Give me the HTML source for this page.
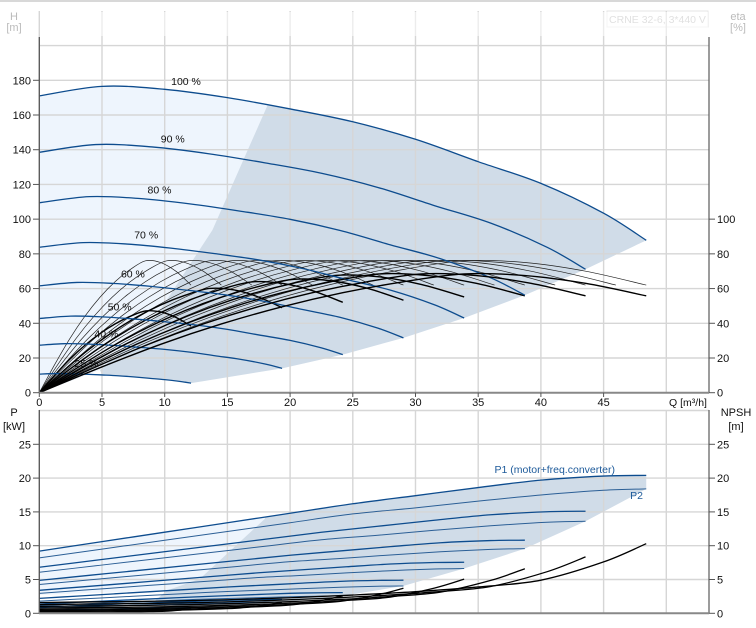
<!DOCTYPE html>
<html><head><meta charset="utf-8"><style>
html,body{margin:0;padding:0;background:#fff;}
svg{display:block;font-family:"Liberation Sans",sans-serif;}
</style></head><body>
<svg id="c" width="756" height="628" viewBox="0 0 756 628" xmlns="http://www.w3.org/2000/svg"></svg>
<script>
// ---- data ----
const qBase=[0,5,10,15,20,25,30,35,40,45,48.4];
const hBase=[171,176.5,174.8,170,163.5,156.1,146,133.1,120.6,103.4,87.8];
const p1Base=[9.2,10.6,12.0,13.4,14.8,16.2,17.4,18.6,19.7,20.3,20.4];
const p2Base=[8.2,9.5,10.8,12.1,13.4,14.7,15.6,16.6,17.5,18.2,18.4];
const npshBase=[1.6,1.7,1.8,2.0,2.3,2.7,3.2,3.9,4.9,7.6,10.3];
const speeds=[0.25,0.4,0.5,0.6,0.7,0.8,0.9,1.0];
const speedLabels=["25 %","40 %","50 %","60 %","70 %","80 %","90 %","100 %"];
const p1Factor=[0.04,0.1,0.15,0.24,0.37,0.53,0.74,1];
const p2Factor=[0.035,0.09,0.14,0.22,0.36,0.52,0.74,1];
const etaR=[0,0.1,0.2,0.3,0.4,0.5,0.6,0.7,0.8,0.9,1.0];
const etaBase=[0,16,31,44,55,64,71,76,75,70,62];
const etaTotFactor=[0.62,0.79,0.84,0.86,0.89,0.9,0.9,0.9];
const etaThinSpeeds=[0.25,0.3,0.35,0.4,0.45,0.5,0.55,0.6,0.65,0.7,0.75,0.8,0.85,0.9,0.95,1.0];
const sysQ=[18.24,13.8,9,4.84];
const sysH=[166.3,93.7,40.5,13.1];
const pEdgeQ=[18,12.8,10.2,9,12.4];
const pEdgeP=[14,5.1,3.4,1.5,0.7];
const hTicks=[0,20,40,60,80,100,120,140,160,180];
const etaTicks=[0,20,40,60,80,100];
const pTicks=[0,5,10,15,20,25];
const qTicks=[0,5,10,15,20,25,30,35,40,45];

// ---- axes ----
const X=q=>39.3+q*12.54;
const YH=h=>392.7-h*1.7356;
const YP=p=>613.3-p*6.76;
const svg=document.getElementById('c');
const NS='http://www.w3.org/2000/svg';
function mk(tag,attrs,parent){const e=document.createElementNS(NS,tag);for(const k in attrs)e.setAttribute(k,attrs[k]);(parent||svg).appendChild(e);return e;}
function smooth(pts){let d='M'+pts[0][0].toFixed(2)+','+pts[0][1].toFixed(2);
 for(let i=0;i<pts.length-1;i++){const p0=pts[i-1]||pts[i],p1=pts[i],p2=pts[i+1],p3=pts[i+2]||p2;
  const c1=[p1[0]+(p2[0]-p0[0])/6,p1[1]+(p2[1]-p0[1])/6],c2=[p2[0]-(p3[0]-p1[0])/6,p2[1]-(p3[1]-p1[1])/6];
  d+='C'+c1.map(v=>v.toFixed(2))+' '+c2.map(v=>v.toFixed(2))+' '+p2[0].toFixed(2)+','+p2[1].toFixed(2);}
 return d;}
function interp(xs,ys,x){for(let i=0;i<xs.length-1;i++){if(x<=xs[i+1]){const t=(x-xs[i])/(xs[i+1]-xs[i]);return ys[i]+t*(ys[i+1]-ys[i]);}}return ys[ys.length-1];}

const blue='#0d4c8e';
// ---- header ----
let e=mk('line',{x1:0,y1:1,x2:756,y2:1,stroke:'#ccc','stroke-width':1.5});

e=mk('text',{x:14,y:20,'font-size':11,fill:'#bbb','text-anchor':'middle'});e.textContent='H';

e=mk('text',{x:14,y:31,'font-size':11,fill:'#bbb','text-anchor':'middle'});e.textContent='[m]';

e=mk('text',{x:738,y:20,'font-size':11,fill:'#bbb','text-anchor':'middle'});e.textContent='eta';

e=mk('text',{x:738,y:31,'font-size':11,fill:'#bbb','text-anchor':'middle'});e.textContent='[%]';

e=mk('rect',{x:607,y:11,width:101,height:16,fill:'#fff',stroke:'#e6e6e6'});

e=mk('text',{x:657.5,y:23,'font-size':10.5,fill:'#bbb','text-anchor':'middle'});e.textContent='CRNE 32-6, 3*440 V';


// ---- top regions ----
let pts=[[X(0),YH(0)]];
qBase.forEach((q,i)=>{if(q<sysQ[0])pts.push([X(q),YH(hBase[i])]);});
pts.push([X(sysQ[0]),YH(interp(qBase,hBase,sysQ[0]))]);
sysQ.forEach((q,i)=>pts.push([X(q),YH(sysH[i])]));
e=mk('polygon',{points:pts.map(p=>p.join(',')).join(' '),fill:'#eef5fd'});

pts=[[X(sysQ[0]),YH(interp(qBase,hBase,sysQ[0]))]];
qBase.forEach((q,i)=>{if(q>sysQ[0])pts.push([X(q),YH(hBase[i])]);});
for(let s=speeds.length-2;s>=0;s--){const n=speeds[s];pts.push([X(48.4*n),YH(87.8*n*n)]);}
{const n=speeds[0];for(let i=qBase.length-2;i>=0;i--){const q=qBase[i]*n;if(q>sysQ[3])pts.push([X(q),YH(hBase[i]*n*n)]);}}
sysQ.slice().reverse().forEach((q,i,a)=>{});
for(let i=sysQ.length-1;i>=0;i--)pts.push([X(sysQ[i]),YH(sysH[i])]);
e=mk('polygon',{points:pts.map(p=>p.join(',')).join(' '),fill:'#d0dce8'});


// ---- bottom regions ----
pts=[[X(0),YP(2.7)],[X(0),YP(p1Base[0])]];
qBase.forEach((q,i)=>{if(q<pEdgeQ[0])pts.push([X(q),YP(p1Base[i])]);});
pts.push([X(pEdgeQ[0]),YP(interp(qBase,p1Base,pEdgeQ[0]))]);
for(let i=0;i<3;i++)pts.push([X(pEdgeQ[i]),YP(pEdgeP[i])]);
e=mk('polygon',{points:pts.map(p=>p.join(',')).join(' '),fill:'#eef5fd'});

pts=[[X(pEdgeQ[0]),YP(interp(qBase,p1Base,pEdgeQ[0]))]];
qBase.forEach((q,i)=>{if(q>pEdgeQ[0])pts.push([X(q),YP(p1Base[i])]);});
for(let s=speeds.length-1;s>=1;s--){const n=speeds[s];pts.push([X(48.4*n),YP(18.4*p2Factor[s])]);}
for(let i=pEdgeQ.length-1;i>=0;i--)pts.push([X(pEdgeQ[i]),YP(pEdgeP[i])]);
e=mk('polygon',{points:pts.map(p=>p.join(',')).join(' '),fill:'#d0dce8'});


// ---- grid ----
qTicks.concat([50]).forEach(q=>{
 let g=mk('line',{x1:X(q),y1:11,x2:X(q),y2:392,stroke:'#d6d6d6','stroke-width':1.4});
 
 g=mk('line',{x1:X(q),y1:410,x2:X(q),y2:613,stroke:'#d6d6d6','stroke-width':1.4});
 
});
hTicks.concat([200]).forEach(h=>{if(h===0)return;
 const g=mk('line',{x1:39,y1:YH(h),x2:709,y2:YH(h),stroke:'#d6d6d6','stroke-width':1.4});
 });
pTicks.concat([30]).forEach(p=>{if(p===0)return;
 const g=mk('line',{x1:39,y1:YP(p),x2:709,y2:YP(p),stroke:'#d6d6d6','stroke-width':1.4});
 });
e=mk('rect',{x:40,y:12,width:668,height:24,fill:'#fff',opacity:0.55});


// ---- efficiency curves (thin) ----
etaThinSpeeds.forEach(n=>{
 const p=etaR.map((r,i)=>[X(r*48.4*n),YH(etaBase[i])]);
 const c=mk('path',{d:smooth(p),fill:'none',stroke:'#222','stroke-width':0.7});
 
});
// ---- total efficiency + head + power + npsh ----
speeds.forEach((n,s)=>{
 let p=etaR.map((r,i)=>[X(r*48.4*n),YH(etaBase[i]*etaTotFactor[s])]);
 let c=mk('path',{d:smooth(p),fill:'none',stroke:'#000','stroke-width':1.4});
 
 p=qBase.map((q,i)=>[X(q*n),YH(hBase[i]*n*n)]);
 c=mk('path',{d:smooth(p),fill:'none',stroke:blue,'stroke-width':1.3});
 
 const lq=11.7*n;
 const ly=YH(interp(qBase.map(q=>q*n),hBase.map(h=>h*n*n),lq))-7;
 const t=mk('text',{x:X(lq)+(1-n)*14,y:ly,'font-size':10.5,fill:'#111','text-anchor':'middle'});
 t.textContent=speedLabels[s];
 
 p=qBase.map((q,i)=>[X(q*n),YP(p1Base[i]*p1Factor[s])]);
 c=mk('path',{d:smooth(p),fill:'none',stroke:blue,'stroke-width':1.3});
 
 p=qBase.map((q,i)=>[X(q*n),YP(p2Base[i]*p2Factor[s])]);
 c=mk('path',{d:smooth(p),fill:'none',stroke:'#2b5f96','stroke-width':1});
 
 p=qBase.map((q,i)=>[X(q*n),YP(npshBase[i]*n*n)]);
 c=mk('path',{d:smooth(p),fill:'none',stroke:'#000','stroke-width':1.3});
 
});
e=mk('text',{x:615,y:473,'font-size':10.5,fill:'#1d5a9a','text-anchor':'end'});e.textContent='P1 (motor+freq.converter)';

e=mk('text',{x:643,y:499,'font-size':10.5,fill:'#1d5a9a','text-anchor':'end'});e.textContent='P2';


// ---- axes ----
[[37,392.7],[410,613.3]].forEach(([a,b],k)=>{
 let l=mk('line',{x1:39.3,y1:a,x2:39.3,y2:b,stroke:'#555','stroke-width':1.3});
 
 l=mk('line',{x1:709,y1:a,x2:709,y2:b,stroke:'#666','stroke-width':1.3});
 
 l=mk('line',{x1:39,y1:b,x2:709,y2:b,stroke:'#888','stroke-width':2});
 
});
hTicks.forEach(h=>{
 let l=mk('line',{x1:33,y1:YH(h),x2:39,y2:YH(h),stroke:'#555'});
 
 const t=mk('text',{x:31,y:YH(h)+4,'font-size':11,fill:'#111','text-anchor':'end'});t.textContent=h;
 
});
etaTicks.forEach(v=>{
 let l=mk('line',{x1:709,y1:YH(v),x2:715,y2:YH(v),stroke:'#555'});
 
 const t=mk('text',{x:717,y:YH(v)+4,'font-size':11,fill:'#111'});t.textContent=v;
 
});
pTicks.forEach(v=>{
 let l=mk('line',{x1:33,y1:YP(v),x2:39,y2:YP(v),stroke:'#555'});
 
 let t=mk('text',{x:31,y:YP(v)+4,'font-size':11,fill:'#111','text-anchor':'end'});t.textContent=v;
 
 l=mk('line',{x1:709,y1:YP(v),x2:715,y2:YP(v),stroke:'#555'});
 
 t=mk('text',{x:717,y:YP(v)+4,'font-size':11,fill:'#111'});t.textContent=v;
 
});
qTicks.forEach(q=>{
 let l=mk('line',{x1:X(q),y1:392.7,x2:X(q),y2:397,stroke:'#555'});
 
 const t=mk('text',{x:X(q),y:406,'font-size':11,fill:'#111','text-anchor':'middle'});t.textContent=q;
 
});
e=mk('text',{x:688,y:406,'font-size':10.5,fill:'#111','text-anchor':'middle'});e.textContent='Q [m³/h]';

e=mk('text',{x:14,y:416,'font-size':11,fill:'#111','text-anchor':'middle'});e.textContent='P';

e=mk('text',{x:14,y:430,'font-size':11,fill:'#111','text-anchor':'middle'});e.textContent='[kW]';

e=mk('text',{x:736,y:416,'font-size':11,fill:'#111','text-anchor':'middle'});e.textContent='NPSH';

e=mk('text',{x:736,y:430,'font-size':11,fill:'#111','text-anchor':'middle'});e.textContent='[m]';

</script>
</body></html>
